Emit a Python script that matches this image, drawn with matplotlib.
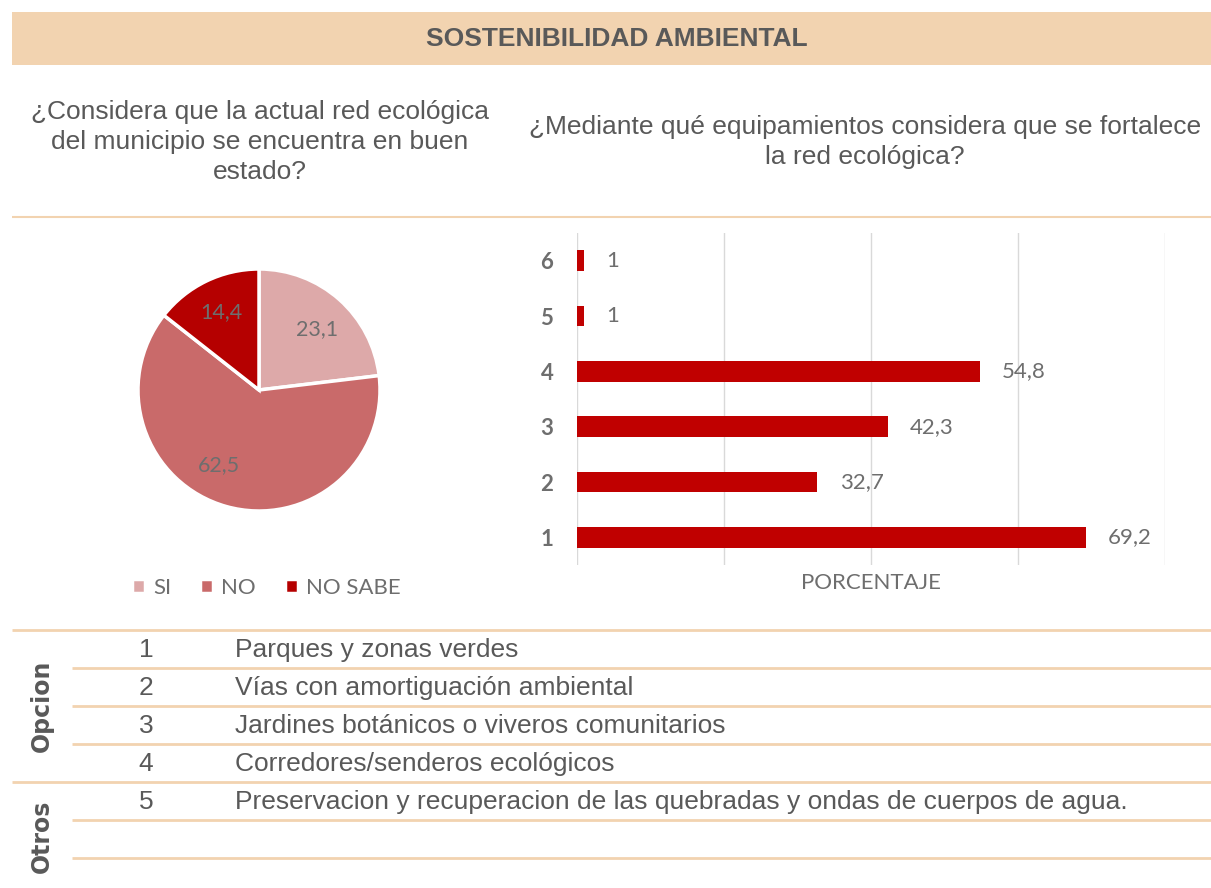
import matplotlib.pyplot as plt

# datos
pie_labels = ['SI', 'NO', 'NO SABE']
pie_values = [23.1, 62.5, 14.4]
pie_colors = ['#DDA9A9', '#C96A6A', '#B50000']

bar_cats = ['1', '2', '3', '4', '5', '6']
bar_values = [69.2, 32.7, 42.3, 54.8, 1, 1]

opcion_nums = ['1', '2', '3', '4']
opcion_txt = ['Parques y zonas verdes',
              'Vías con amortiguación ambiental',
              'Jardines botánicos o viveros comunitarios',
              'Corredores/senderos ecológicos']
otros_nums = ['5']
otros_txt = ['Preservacion y recuperacion de las quebradas y ondas de cuerpos de agua.']

W, H = 1211, 888
PEACH = '#F2D3B0'
GRAY = '#595959'
LGRAY = '#6E6E6E'
ARIAL = 'Liberation Sans'
CALIBRI = 'Lato'


def box(left, top, right, bottom):
    return [left / W, 1 - bottom / H, (right - left) / W, (bottom - top) / H]


fig = plt.figure(figsize=(W / 100, H / 100), dpi=100)

# fondo con textos y líneas
bg = fig.add_axes([0, 0, 1, 1])
bg.set_xlim(0, W)
bg.set_ylim(H, 0)
bg.axis('off')

bg.add_patch(plt.Rectangle((12, 12), W - 12, 53, color=PEACH, lw=0))
bg.text(617, 39, 'SOSTENIBILIDAD AMBIENTAL', ha='center', va='center',
        fontsize=19, fontweight='bold', color=GRAY, family=ARIAL)

bg.text(260, 142, '¿Considera que la actual red ecológica\ndel municipio se encuentra en buen\nestado?',
        ha='center', va='center', fontsize=19, color=GRAY, family=ARIAL,
        linespacing=1.3)
bg.text(865, 142, '¿Mediante qué equipamientos considera que se fortalece\nla red ecológica?',
        ha='center', va='center', fontsize=19, color=GRAY, family=ARIAL,
        linespacing=1.3)

bg.hlines(217, 12, W, color=PEACH, lw=1.5)

# tabla
bg.hlines([630, 782], 12, W, color=PEACH, lw=2)
bg.hlines([668, 706, 744, 820, 858], 72, W, color=PEACH, lw=2)

row_y = [650, 688, 726, 764]
for y, n, t in zip(row_y, opcion_nums, opcion_txt):
    bg.text(146, y, n, ha='center', va='center', fontsize=19, color=GRAY, family=ARIAL)
    bg.text(235, y, t, ha='left', va='center', fontsize=19, color=GRAY, family=ARIAL)
for y, n, t in zip([802], otros_nums, otros_txt):
    bg.text(146, y, n, ha='center', va='center', fontsize=19, color=GRAY, family=ARIAL)
    bg.text(235, y, t, ha='left', va='center', fontsize=19, color=GRAY, family=ARIAL)

bg.text(42, 706, 'Opcion', rotation=90, ha='center', va='center', fontsize=17,
        fontweight='bold', color=GRAY, family='DejaVu Sans')
bg.text(42, 836, 'Otros', rotation=90, ha='center', va='center', fontsize=17,
        fontweight='bold', color=GRAY, family='DejaVu Sans')

# pastel
ax1 = fig.add_axes(box(138, 269, 380, 511))
wedges, texts, autotexts = ax1.pie(
    pie_values, colors=pie_colors, startangle=90, counterclock=False,
    autopct=lambda p: f'{p:.1f}'.replace('.', ','), pctdistance=0.7,
    wedgeprops=dict(edgecolor='white', linewidth=2.5),
    textprops=dict(fontsize=15.5, color=LGRAY, family=CALIBRI))
ax1.set_xlim(-1, 1)
ax1.set_ylim(-1, 1)
# ajuste fino de las etiquetas como en el original
autotexts[0].set_position((0.48, 0.50))
autotexts[1].set_position((-0.33, -0.62))
autotexts[2].set_position((-0.31, 0.64))

leg = fig.legend(wedges, pie_labels, loc='center', bbox_to_anchor=(266 / W, 1 - 588 / H),
                 ncol=3, frameon=False, handlelength=0.6, handleheight=0.6,
                 handletextpad=0.35, columnspacing=1.3,
                 prop=dict(family=CALIBRI, size=16))
for t in leg.get_texts():
    t.set_color(LGRAY)

# barras
ax2 = fig.add_axes(box(577, 233, 1165, 565))
ypos = list(range(1, len(bar_cats) + 1))
bars = ax2.barh(ypos, bar_values, height=0.37, color='#C00000', zorder=3)
ax2.bar_label(bars, labels=[f'{v:g}'.replace('.', ',') for v in bar_values],
              padding=16, fontsize=16, color=LGRAY, family=CALIBRI)
ax2.set_xlim(0, 80)
ax2.set_ylim(0.5, 6.5)
ax2.set_xticks([0, 20, 40, 60, 80])
ax2.set_yticks(ypos)
ax2.set_yticklabels(bar_cats, fontsize=16, fontweight='bold', color=LGRAY, family=CALIBRI)
ax2.tick_params(length=0)
ax2.tick_params(axis='y', pad=17)
ax2.tick_params(axis='x', labelbottom=False)
ax2.grid(axis='x', color='#D9D9D9', lw=1, zorder=0)
for s in ax2.spines.values():
    s.set_visible(False)
ax2.set_xlabel('PORCENTAJE', fontsize=16, color=LGRAY, family=CALIBRI, labelpad=6)

fig.savefig('out.png', dpi=100)
